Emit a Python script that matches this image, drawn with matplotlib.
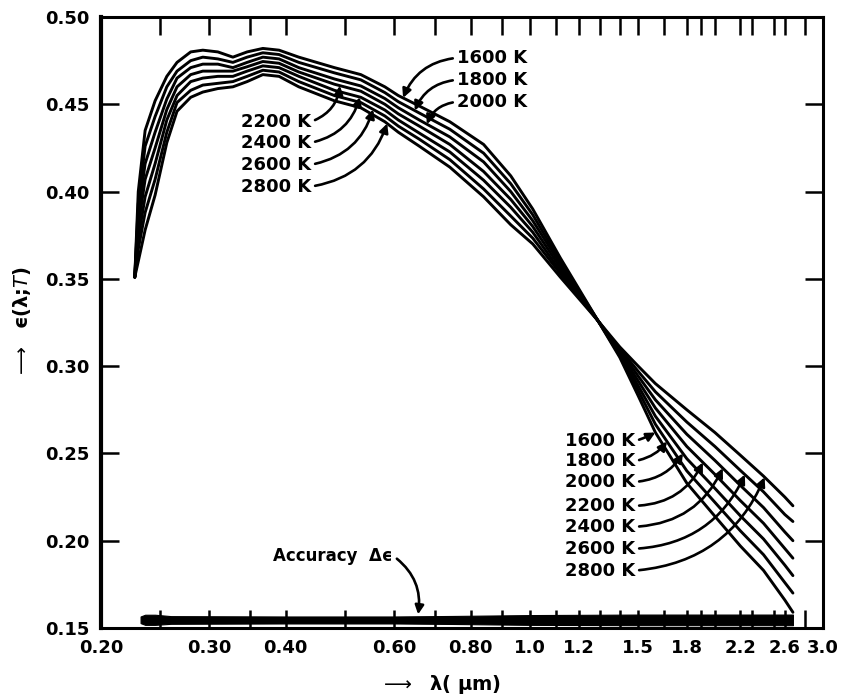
import numpy as np
import matplotlib.pyplot as plt
from matplotlib.ticker import FixedLocator, NullFormatter

# wavelength grid (um) shared by all curves
lam = [0.227, 0.230, 0.236, 0.245, 0.256, 0.266, 0.28, 0.293, 0.31, 0.328,
       0.346, 0.367, 0.39, 0.42, 0.48, 0.53, 0.58, 0.61, 0.66, 0.74,
       0.84, 0.93, 1.01, 1.12, 1.29, 1.4, 1.5, 1.6, 1.8, 2.0,
       2.2, 2.4, 2.6, 2.68]

eps_1600 = [0.351, 0.400, 0.435, 0.452, 0.466, 0.474, 0.480, 0.481, 0.480, 0.477,
            0.480, 0.482, 0.481, 0.477, 0.471, 0.467, 0.460, 0.455, 0.449, 0.440,
            0.427, 0.409, 0.390, 0.362, 0.326, 0.305, 0.283, 0.262, 0.233, 0.214,
            0.197, 0.183, 0.166, 0.159]
eps_1800 = [0.351, 0.393, 0.426, 0.443, 0.460, 0.469, 0.475, 0.477, 0.476, 0.474,
            0.477, 0.4795, 0.4785, 0.474, 0.468, 0.464, 0.4567, 0.4515, 0.445, 0.4357,
            0.422, 0.4045, 0.3867, 0.360, 0.326, 0.306, 0.286, 0.2667, 0.240, 0.222,
            0.2057, 0.192, 0.176, 0.170]
eps_2000 = [0.351, 0.387, 0.416, 0.434, 0.453, 0.465, 0.471, 0.473, 0.473, 0.471,
            0.474, 0.477, 0.476, 0.471, 0.4645, 0.4605, 0.4533, 0.448, 0.441, 0.4313,
            0.417, 0.400, 0.3833, 0.3585, 0.326, 0.307, 0.2887, 0.2713, 0.247, 0.230,
            0.2143, 0.201, 0.186, 0.180]
eps_2200 = [0.351, 0.380, 0.407, 0.425, 0.447, 0.460, 0.467, 0.469, 0.469, 0.469,
            0.4715, 0.4745, 0.4735, 0.4685, 0.4615, 0.4575, 0.450, 0.4445, 0.4375, 0.427,
            0.4115, 0.3955, 0.380, 0.3565, 0.326, 0.308, 0.2915, 0.276, 0.254, 0.238,
            0.223, 0.210, 0.1955, 0.190]
eps_2400 = [0.351, 0.373, 0.397, 0.416, 0.441, 0.455, 0.463, 0.465, 0.466, 0.466,
            0.469, 0.472, 0.471, 0.466, 0.458, 0.454, 0.4467, 0.441, 0.4335, 0.4227,
            0.4065, 0.391, 0.3767, 0.3545, 0.326, 0.309, 0.2943, 0.2807, 0.261, 0.246,
            0.2317, 0.219, 0.205, 0.200]
eps_2600 = [0.351, 0.367, 0.388, 0.407, 0.434, 0.451, 0.458, 0.461, 0.462, 0.463,
            0.466, 0.4695, 0.4685, 0.463, 0.455, 0.451, 0.4433, 0.4375, 0.430, 0.4183,
            0.4015, 0.386, 0.3733, 0.353, 0.326, 0.310, 0.297, 0.2853, 0.268, 0.254,
            0.2403, 0.228, 0.215, 0.211]
eps_2800 = [0.351, 0.360, 0.378, 0.398, 0.428, 0.446, 0.454, 0.457, 0.459, 0.460,
            0.463, 0.467, 0.466, 0.460, 0.452, 0.448, 0.440, 0.434, 0.426, 0.414,
            0.397, 0.381, 0.370, 0.351, 0.326, 0.311, 0.300, 0.290, 0.275, 0.262,
            0.249, 0.237, 0.225, 0.220]

curves = [eps_1600, eps_1800, eps_2000, eps_2200, eps_2400, eps_2600, eps_2800]
temps = ['1600 K', '1800 K', '2000 K', '2200 K', '2400 K', '2600 K', '2800 K']

# accuracy band along the bottom
acc_lam = [0.232, 0.236, 0.245, 0.26, 0.40, 0.60, 0.75, 1.0, 1.5, 2.0, 2.68]
acc_lo = [0.1528, 0.1518, 0.1518, 0.1524, 0.1526, 0.1526, 0.1523, 0.1518, 0.1516, 0.1516, 0.1516]
acc_hi = [0.1566, 0.1576, 0.1576, 0.1568, 0.1566, 0.1566, 0.1569, 0.1574, 0.1577, 0.1577, 0.1577]

xmajor = [0.20, 0.30, 0.40, 0.60, 0.80, 1.0, 1.2, 1.5, 1.8, 2.2, 2.6, 3.0]
xmajor_lbl = ['0.20', '0.30', '0.40', '0.60', '0.80', '1.0', '1.2', '1.5', '1.8', '2.2', '2.6', '3.0']
xminor = [0.25, 0.35, 0.5, 0.7, 0.9, 1.1, 1.3, 1.4, 1.65, 1.9, 2.0, 2.3, 2.5, 2.8]
yticks = [0.15, 0.20, 0.25, 0.30, 0.35, 0.40, 0.45, 0.50]

fig = plt.figure(figsize=(8.46, 6.97), dpi=100)
ax = fig.add_axes([101 / 846, 1 - 628 / 697, 722 / 846, 611 / 697])

for eps in curves:
    ax.plot(lam, eps, color='black', lw=2.1, solid_capstyle='round',
            solid_joinstyle='round')

ax.fill_between(acc_lam, acc_lo, acc_hi, color='black', lw=0.8)

ax.set_xscale('log')
ax.set_xlim(0.2, 3.0)
ax.set_ylim(0.15, 0.50)
ax.xaxis.set_major_locator(FixedLocator(xmajor))
ax.set_xticklabels(xmajor_lbl, fontsize=13, fontweight='bold')
ax.xaxis.set_minor_locator(FixedLocator(xminor))
ax.xaxis.set_minor_formatter(NullFormatter())
ax.set_yticks(yticks)
ax.set_yticklabels(['%.2f' % v for v in yticks], fontsize=13, fontweight='bold')

ax.tick_params(which='both', direction='in', top=True, right=True,
               length=13, width=1.8, color='black')
ax.tick_params(axis='x', which='both', pad=8)
ax.tick_params(axis='y', pad=8)
for sp in ax.spines.values():
    sp.set_linewidth(2.2)
ax.spines['left'].set_linewidth(3)


def label(txt, eps, lam_head, xytext, ha, rad):
    # arrow head sits on the curve at lam_head
    y_head = np.interp(np.log(lam_head), np.log(lam), eps)
    relx = 1.0 if ha == 'right' else 0.0
    ax.annotate(txt, xy=(lam_head, y_head), xytext=xytext, ha=ha, va='center',
                fontsize=13, fontweight='bold',
                arrowprops=dict(arrowstyle='-|>', color='black', lw=1.9,
                                mutation_scale=13, relpos=(relx, 0.5),
                                shrinkA=1, shrinkB=0,
                                connectionstyle='arc3,rad=%.2f' % rad))


# upper right group
up_r_y = [0.4766, 0.4640, 0.4514]
up_r_head = [0.621, 0.649, 0.679]
for i in range(3):
    label(temps[i], curves[i], up_r_head[i], (0.760, up_r_y[i]), 'left', 0.3)

# upper left group
up_l_y = [0.4400, 0.4280, 0.4154, 0.4029]
up_l_head = [0.49, 0.528, 0.555, 0.585]
for k, i in enumerate(range(3, 7)):
    label(temps[i], curves[i], up_l_head[k], (0.4396, up_l_y[k]), 'right', 0.3)

# lower right group
low_y = [0.2571, 0.2457, 0.2337, 0.2200, 0.2080, 0.1954, 0.1829]
low_head = [1.60, 1.671, 1.774, 1.912, 2.06, 2.238, 2.41]
low_rad = [0.05, 0.2, 0.25, 0.3, 0.3, 0.3, 0.3]
for i in range(7):
    label(temps[i], curves[i], low_head[i], (1.482, low_y[i]), 'right', low_rad[i])

ax.annotate('Accuracy  \u0394\u03f5', xy=(0.657, 0.1578), xytext=(0.598, 0.1914),
            ha='right', va='center', fontsize=12, fontweight='bold',
            arrowprops=dict(arrowstyle='-|>', color='black', lw=1.9,
                            mutation_scale=13, relpos=(1.0, 0.5),
                            shrinkA=1, shrinkB=0,
                            connectionstyle='arc3,rad=-0.3'))

fig.text(441 / 846, 1 - 684 / 697, '$\\longrightarrow$  \u03bb( \u03bcm)', ha='center',
         va='center', fontsize=14, fontweight='bold')
fig.text(22 / 846, 1 - 322 / 697, '$\\longrightarrow$  \u03f5(\u03bb;$T$)', ha='center',
         va='center', fontsize=14, fontweight='bold', rotation=90)

fig.savefig('out.png', dpi=100)
